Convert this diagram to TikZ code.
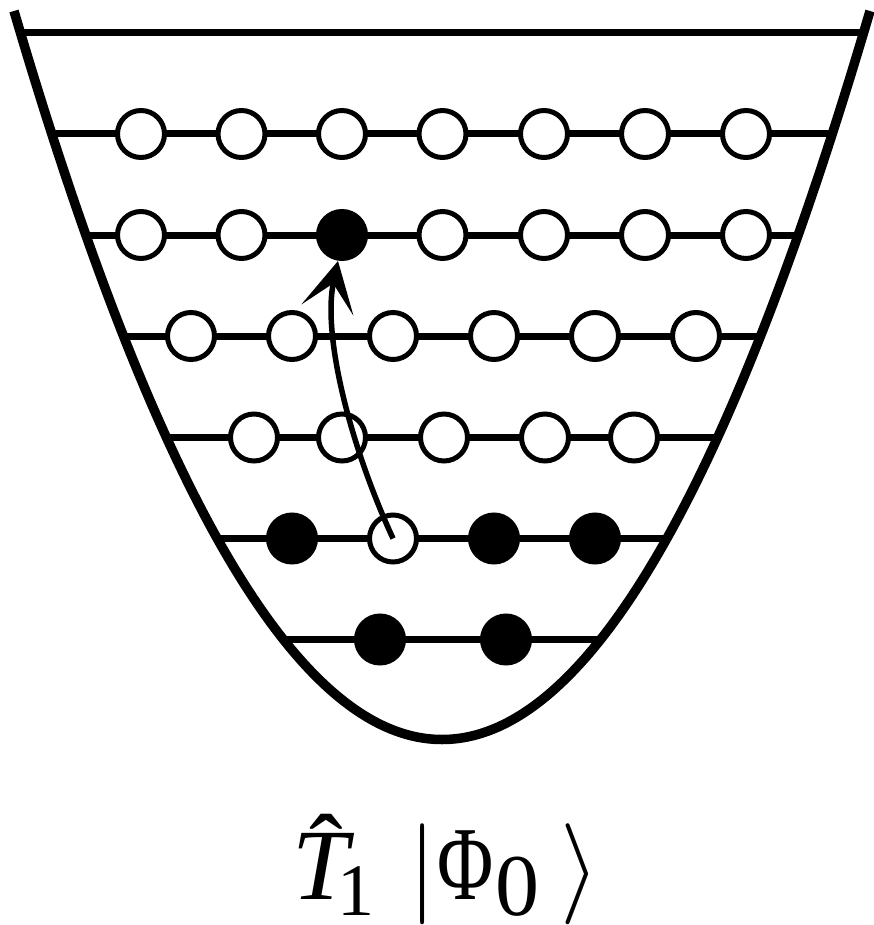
\documentclass[tikz,border=0pt]{standalone}
\usepackage{fix-cm}
\usepackage{fontspec}
\setmainfont{Liberation Serif}
\usepackage{graphicx}
\usetikzlibrary{arrows.meta}
\newcommand{\glyphat}[2]{\rlap{\hspace*{#1}#2}}
\begin{document}
\begin{tikzpicture}[x=1pt,y=-1pt,
  orb/.style={circle,draw,line width=5pt,minimum size=47pt,inner sep=0pt,fill=white},
  occ/.style={orb,fill=black},
  level/.style={line width=7pt},
  well/.style={line width=9.5pt},
  exc/.style={line width=5.5pt,-{Stealth[length=50pt,width=53pt,inset=27pt]}}]
\useasboundingbox (0,0) rectangle (874,925);
% energy levels, clipped to the well (parabola as exact cubic)
\begin{scope}
  \clip (14,11) .. controls (299.33,982.33) and (584.67,982.33) .. (870,11) -- cycle;
  \foreach \yy in {33,134,235,336,437,538,639}
    \draw[level] (0,\yy) -- (874,\yy);
\end{scope}
\draw[well] (14,11) .. controls (299.33,982.33) and (584.67,982.33) .. (870,11);
% row 1
\foreach \i/\xx in {1/141,2/241.5,3/342,4/442.5,5/544,6/645,7/746}
  \node[orb] (a\i) at (\xx,134) {};
% row 2
\foreach \i/\xx in {1/141,2/241.5,4/442.5,5/544,6/645,7/746}
  \node[orb] (b\i) at (\xx,235) {};
\node[occ] (b3) at (342,235) {};
% row 3
\foreach \i/\xx in {1/191,2/292,3/393,4/494,5/595,6/696}
  \node[orb] (c\i) at (\xx,336) {};
% row 4
\foreach \i/\xx in {1/254,2/342,3/444,4/545,5/634}
  \node[orb] (d\i) at (\xx,437.5) {};
% row 5
\node[occ] (e1) at (292,538.5) {};
\node[orb] (e2) at (393,538.5) {};
\node[occ] (e3) at (494,538.5) {};
\node[occ] (e4) at (595,538.5) {};
% row 6
\node[occ] (f1) at (380,639.5) {};
\node[occ] (f2) at (506,639.5) {};
% excitation arrow
\coordinate (tip) at ([xshift=-4pt]b3.south);
\draw[exc] (e2.center) .. controls (350,445) and (322,335) .. (tip);
% label
\node[anchor=base west,inner sep=0pt] (lbl) at (292,899)
  {\fontsize{101}{110}\selectfont
   \glyphat{0pt}{\textit{T}}%
   \glyphat{17pt}{\raisebox{15pt}{ˆ}}%
   \glyphat{45pt}{\raisebox{-16pt}{\fontsize{74}{74}\selectfont 1}}%
   \glyphat{116pt}{$|$}%
   \glyphat{145pt}{\scalebox{0.76}[1.04]{Φ}}%
   \glyphat{203pt}{\raisebox{-16pt}{\fontsize{88}{88}\selectfont 0}}%
   \glyphat{268pt}{$\rangle$}%
   \hspace*{300pt}};
\end{tikzpicture}
\end{document}
